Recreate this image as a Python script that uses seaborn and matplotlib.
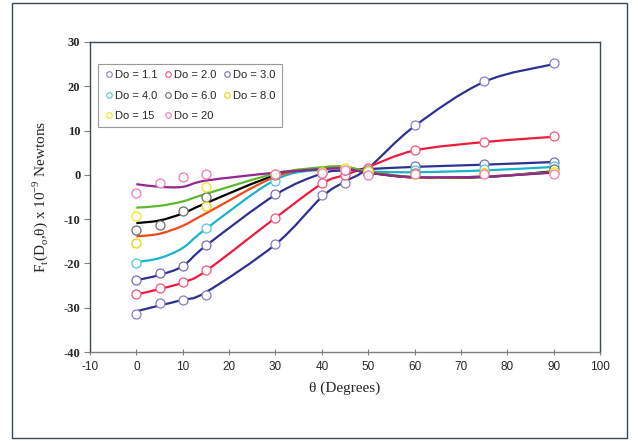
import numpy as np
import pandas as pd
import matplotlib
matplotlib.use("Agg")
import matplotlib.pyplot as plt
from matplotlib.path import Path
from matplotlib.patches import PathPatch, Rectangle
from matplotlib.lines import Line2D
import seaborn as sns

# ---------------- data ----------------
theta = [0, 5, 10, 15, 30, 40, 45, 50, 60, 75, 90]
labels = ["Do = 1.1", "Do = 2.0", "Do = 3.0", "Do = 4.0",
          "Do = 6.0", "Do = 8.0", "Do = 15", "Do = 20"]
nan = np.nan
# measured points (open circles)
pts_11 = [-31.4, -29.0, -28.2, -27.1, -15.7, -4.6, -1.8, 0.3, 11.2, 21.2, 25.2]
pts_20 = [-26.9, -25.5, -24.1, -21.5, -9.7, -1.8, 0.0, 1.6, 5.6, 7.4, 8.7]
pts_30 = [-23.7, -22.2, -20.6, -15.9, -4.3, 0.4, 1.1, 1.2, 2.0, 2.5, 3.0]
pts_40 = [-19.8, nan, nan, -12.1, -1.3, 0.7, 1.3, 0.5, 1.1, 1.3, 1.9]
pts_60 = [-12.4, -11.3, -8.1, -5.1, 0.0, 0.5, 1.0, 0.3, 0.4, 0.5, 1.3]
pts_80 = [-15.4, nan, nan, -7.0, 0.2, 0.6, 1.3, 0.6, 0.3, 0.4, 0.7]
pts_15 = [-9.4, nan, nan, -2.7, 0.3, 0.7, 1.5, 0.8, 0.3, 0.4, 0.7]
pts_200 = [-4.0, -1.9, -0.5, 0.2, 0.2, 0.5, 1.0, 0.0, 0.2, 0.2, 0.2]
# fitted curves
fit_11 = [-30.8, -29.5, -28.2, -26.5, -15.7, -5.0, -1.5, 1.5, 11.0, 21.0, 25.0]
fit_20 = [-27.0, -25.8, -24.3, -21.7, -9.7, -2.0, 0.0, 1.8, 5.5, 7.4, 8.6]
fit_30 = [-23.8, -22.6, -20.6, -16.0, -4.5, 0.3, 1.0, 1.3, 1.8, 2.3, 2.9]
fit_40 = [-19.7, -18.8, -16.5, -12.2, -1.1, 1.2, 1.5, 0.8, 0.6, 1.0, 1.8]
fit_60 = [-10.9, -10.3, -8.7, -6.4, -0.1, 1.4, 1.5, 0.5, -0.6, -0.5, 0.8]
fit_80 = [-13.9, -13.3, -11.5, -8.7, -0.4, 1.6, 1.8, 0.7, -0.6, -0.4, 0.6]
fit_15 = [-7.4, -7.0, -6.0, -4.3, 0.3, 1.7, 1.8, 0.8, -0.5, -0.4, 0.6]
fit_200 = [-2.1, -2.7, -2.7, -1.3, 0.5, 1.3, 1.4, 0.5, -0.5, -0.4, 0.5]

points = [pts_11, pts_20, pts_30, pts_40, pts_60, pts_80, pts_15, pts_200]
fits = [fit_11, fit_20, fit_30, fit_40, fit_60, fit_80, fit_15, fit_200]
marker_colors = ["#8a7cc4", "#f0557a", "#7a6cb8", "#4ec8df",
                 "#6e6e6e", "#e6d400", "#f2e41c", "#f07ab6"]
line_colors = ["#2e3192", "#ed1c3c", "#2e3192", "#18b4cc",
               "#000000", "#f04a18", "#5cb82e", "#93278f"]

# ---------------- figure ----------------
sns.set_theme(style="white")
plt.rcParams["font.family"] = ["Liberation Sans", "DejaVu Sans"]
plt.rcParams["axes.unicode_minus"] = False

fig = plt.figure(figsize=(6.38, 4.41), dpi=100)
W, H = 638, 441
ax = fig.add_axes([90 / W, 1 - 352 / H, (600 - 90) / W, (352 - 42) / H])

# outer chart frame
fig.patches.append(Rectangle((12 / W, 3 / H), (627 - 12) / W, (438 - 3) / H,
                             transform=fig.transFigure, fill=False,
                             edgecolor="#3a4a52", linewidth=1.0))


def smooth_path(xs, ys):
    xs = np.asarray(xs, float)
    ys = np.asarray(ys, float)
    P = np.column_stack([xs, ys])
    verts = [P[0]]
    codes = [Path.MOVETO]
    n = len(P)
    for i in range(n - 1):
        p0 = P[i - 1] if i > 0 else P[i]
        p1 = P[i]
        p2 = P[i + 1]
        p3 = P[i + 2] if i + 2 < n else P[i + 1]
        c1 = p1 + (p2 - p0) / 6.0
        c2 = p2 - (p3 - p1) / 6.0
        verts += [c1, c2, p2]
        codes += [Path.CURVE4] * 3
    return Path(verts, codes)


for f, lc in zip(fits, line_colors):
    ax.add_patch(PathPatch(smooth_path(theta, f), fill=False,
                           edgecolor=lc, linewidth=1.6, zorder=2))

for p, mc, lab in zip(points, marker_colors, labels):
    df = pd.DataFrame({"theta": theta, "F": p}).dropna()
    sns.scatterplot(data=df, x="theta", y="F", ax=ax, marker="o",
                    s=42, facecolor="white", edgecolor=mc,
                    linewidth=0.9, zorder=3, legend=False)

ax.set_xlim(-10, 100)
ax.set_ylim(-40, 30)
ax.set_xticks(np.arange(-10, 101, 10))
ax.set_yticks(np.arange(-40, 31, 10))

for s in ["left", "top", "right"]:
    ax.spines[s].set_color("#3a4a52")
    ax.spines[s].set_linewidth(1.0)
ax.spines["bottom"].set_color("#808080")
ax.spines["bottom"].set_linewidth(1.0)

ax.tick_params(axis="x", direction="inout", length=5, width=0.8,
               color="#808080", labelsize=8.5, pad=4, bottom=True)
ax.tick_params(axis="y", direction="out", length=4, width=0.8,
               color="#808080", pad=3, left=True)
for t in ax.get_yticklabels():
    t.set_fontfamily("Liberation Serif")
    t.set_fontweight("bold")
    t.set_fontsize(9)

ax.set_xlabel("θ (Degrees)", fontfamily="Liberation Serif", fontsize=11,
              labelpad=6)
ax.set_ylabel(r"F$_\mathregular{t}$(D$_\mathregular{o}$,θ) x 10$^\mathregular{-9}$ Newtons",
              fontfamily="Liberation Serif", fontsize=11, labelpad=10)
ax.grid(False)

handles = [Line2D([], [], linestyle="none", marker="o", markersize=4,
                  markerfacecolor="white", markeredgecolor=mc,
                  markeredgewidth=0.8) for mc in marker_colors]
# matplotlib fills legend columns first; reorder so entries read row by row
order = [0, 3, 6, 1, 4, 7, 2, 5]
leg = ax.legend([handles[i] for i in order], [labels[i] for i in order],
                ncol=3, loc="upper left",
                bbox_to_anchor=(8 / 510, 1 - 22 / 310), fontsize=8,
                frameon=True, fancybox=False, borderpad=0.55,
                handletextpad=0.1, columnspacing=0.5, labelspacing=0.95,
                handlelength=0.9, borderaxespad=0)
leg.get_frame().set_edgecolor("#808080")
leg.get_frame().set_linewidth(0.8)

fig.savefig("out.png", dpi=100)
